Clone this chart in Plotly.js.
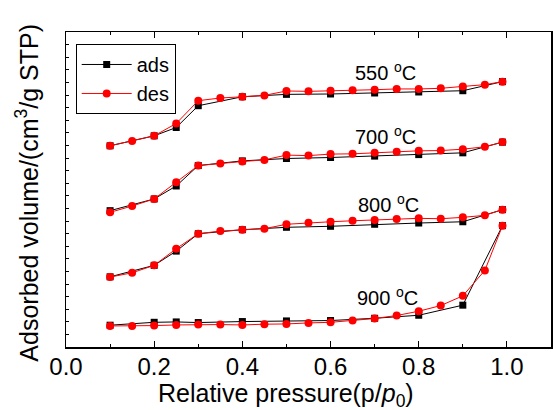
<!DOCTYPE html>
<html>
<head>
<meta charset="utf-8">
<script src="https://cdn.plot.ly/plotly-3.0.1.min.js"></script>
<style>html,body{margin:0;padding:0;background:#fff;}#chart{width:553px;height:410px;}</style>
</head>
<body>
<div id="chart"></div>
<script>
// Relative pressure values
var xAds = [0.1, 0.2, 0.25, 0.3, 0.4, 0.5, 0.6, 0.7, 0.8, 0.9, 0.99];
var xDes = [0.99, 0.95, 0.9, 0.85, 0.8, 0.75, 0.7, 0.65, 0.6, 0.55, 0.5, 0.45, 0.4, 0.35, 0.3, 0.25, 0.2, 0.15, 0.1];

// Adsorbed volume (arbitrary, offset curves)
var ads550 = [15.97, 16.76, 17.42, 19.15, 19.86, 20.05, 20.08, 20.16, 20.24, 20.34, 21.06];
var des550 = [21.06, 20.82, 20.68, 20.53, 20.48, 20.48, 20.42, 20.37, 20.34, 20.29, 20.32, 19.97, 19.86, 19.76, 19.55, 17.74, 16.76, 16.34, 15.97];

var ads700 = [10.82, 11.75, 12.78, 14.40, 14.77, 14.96, 15.04, 15.15, 15.27, 15.41, 16.26];
var des700 = [16.26, 15.89, 15.70, 15.59, 15.57, 15.49, 15.41, 15.33, 15.31, 15.19, 15.23, 14.85, 14.72, 14.56, 14.40, 13.08, 11.75, 11.19, 10.69];

var ads800 = [5.57, 6.48, 7.61, 8.99, 9.31, 9.50, 9.58, 9.74, 9.84, 9.94, 10.90];
var des800 = [10.90, 10.45, 10.29, 10.18, 10.21, 10.16, 10.08, 10.02, 9.94, 9.86, 9.74, 9.39, 9.31, 9.20, 8.99, 7.80, 6.48, 5.89, 5.55];

var ads900 = [1.73, 1.96, 1.99, 1.94, 2.02, 2.07, 2.10, 2.28, 2.52, 3.32, 9.63];
var des900 = [9.63, 6.08, 4.06, 3.29, 2.84, 2.50, 2.26, 2.10, 1.96, 1.91, 1.83, 1.81, 1.75, 1.78, 1.78, 1.75, 1.70, 1.67, 1.67];

var labels = ["550 <sup>o</sup>C", "700 <sup>o</sup>C", "800 <sup>o</sup>C", "900 <sup>o</sup>C"];
var labelX = [0.724, 0.725, 0.732, 0.730];
var labelY = [21.88, 16.76, 11.41, 3.98];

var adsSets = [ads550, ads700, ads800, ads900];
var desSets = [des550, des700, des800, des900];

var FONT = "Arial, 'Liberation Sans', sans-serif";
var traces = [];
adsSets.forEach(function (ys, i) {
  traces.push({
    x: xAds, y: ys, type: 'scatter', mode: 'lines+markers', name: 'ads',
    legendgroup: 'ads', showlegend: i === 0,
    line: {color: '#000000', width: 1},
    marker: {symbol: 'square', size: 7, color: '#000000'}
  });
});
desSets.forEach(function (ys, i) {
  traces.push({
    x: xDes, y: ys, type: 'scatter', mode: 'lines+markers', name: 'des',
    legendgroup: 'des', showlegend: i === 0,
    line: {color: '#ff0000', width: 1},
    marker: {symbol: 'circle', size: 8, color: '#ff0000'}
  });
});

var annotations = labels.map(function (t, i) {
  return {text: t, x: labelX[i], y: labelY[i], xref: 'x', yref: 'y',
    showarrow: false, font: {family: FONT, size: 20, color: '#000'}};
});
annotations.push({
  text: 'Adsorbed volume/(cm<sup>3</sup>/g STP)', xref: 'paper', yref: 'paper',
  x: -0.0804, y: 0.49, xanchor: 'center', yanchor: 'middle', textangle: -90,
  showarrow: false, font: {family: FONT, size: 25, color: '#000'}
});
annotations.push({
  text: 'Relative pressure(p/<i>p</i><sub>0</sub>)', xref: 'x', yref: 'paper',
  x: 0.5, y: -0.153, xanchor: 'center', yanchor: 'middle',
  showarrow: false, font: {family: FONT, size: 25, color: '#000'}
});

var layout = {
  width: 553, height: 410,
  margin: {l: 66, r: 2, t: 32, b: 63},
  paper_bgcolor: '#fff', plot_bgcolor: '#fff',
  font: {family: FONT, color: '#000'},
  showlegend: true,
  legend: {
    x: 0.02, y: 0.962, xanchor: 'left', yanchor: 'top',
    bordercolor: '#000', borderwidth: 1, bgcolor: '#fff',
    font: {family: FONT, size: 20, color: '#000'},
    itemwidth: 50, tracegroupgap: 0
  },
  xaxis: {
    range: [0, 1.1], tick0: 0, dtick: 0.2, tickformat: '.1f',
    ticks: 'inside', ticklen: 6, tickwidth: 1, tickcolor: '#000',
    ticklabelstandoff: -2,
    showline: true, linecolor: '#000', linewidth: 1.5, mirror: 'ticks',
    showgrid: false, zeroline: false,
    tickfont: {family: FONT, size: 24, color: '#000'},
    minor: {dtick: 0.1, ticks: 'inside', ticklen: 3, tickwidth: 1, tickcolor: '#000', showgrid: false}
  },
  yaxis: {
    range: [0, 25], tick0: 0, dtick: 1,
    ticks: 'inside', ticklen: 3, tickwidth: 1, tickcolor: '#000',
    showticklabels: false,
    showline: true, linecolor: '#000', linewidth: 1.5, mirror: true,
    showgrid: false, zeroline: false
  },
  annotations: annotations
};

Plotly.newPlot('chart', traces, layout, {displayModeBar: false, staticPlot: true});
</script>
</body>
</html>
